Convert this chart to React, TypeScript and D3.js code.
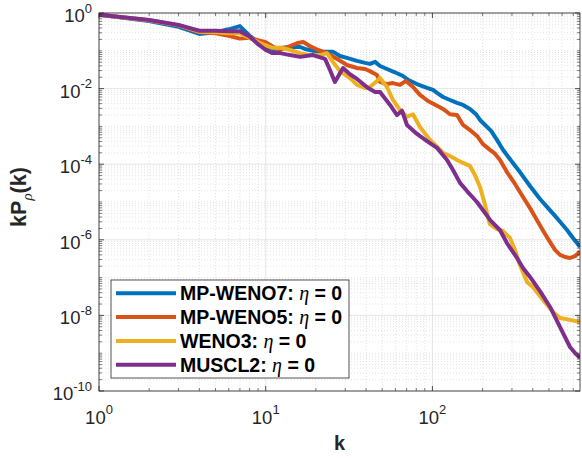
import * as d3 from "d3";

const W = 582;
const H = 458;
const M = { left: 99, right: 580, top: 13, bottom: 391 };

const K_MAX = 768;

// [k, kP(k)] readings per scheme
const mpWeno7: [number, number][] = [
  [1, 0.9], [2, 0.61], [3, 0.43], [4, 0.28], [5, 0.31], [6, 0.37], [7, 0.45], [8, 0.25],
  [9, 0.17], [10, 0.128], [11, 0.11], [12.2, 0.119], [14, 0.126], [16.1, 0.126], [17.2, 0.112],
  [19.2, 0.1], [22.1, 0.095], [25.3, 0.095], [27.9, 0.073], [30.7, 0.065], [35.3, 0.054],
  [39.4, 0.048], [42.2, 0.045], [45.3, 0.051], [48.5, 0.0396], [53.4, 0.033], [59.6, 0.027],
  [66.6, 0.0216], [71.4, 0.017], [80.8, 0.0132], [92.8, 0.0104], [100.8, 0.0092],
  [106.6, 0.0077], [115.8, 0.006], [127.5, 0.005], [140.5, 0.0042], [152.6, 0.0037],
  [168, 0.0029], [182.6, 0.0021], [193, 0.00148], [207, 0.00109], [225, 0.00076],
  [244, 0.00044], [265, 0.00024], [304, 0.000108], [335, 6.2e-5], [385, 2.65e-5],
  [442, 1.2e-5], [487, 7.4e-6], [544, 4.3e-6], [583, 3.0e-6], [642, 1.82e-6],
  [697, 1.12e-6], [768, 6.5e-7],
];

const mpWeno5: [number, number][] = [
  [1, 0.9], [2, 0.64], [3, 0.47], [4, 0.31], [5, 0.29], [6, 0.25], [7, 0.21], [8, 0.22],
  [9, 0.19], [10, 0.17], [11, 0.13], [12.2, 0.105], [14, 0.134], [15.5, 0.16], [16.8, 0.17],
  [18.4, 0.134], [20.6, 0.105], [23.3, 0.087], [26.8, 0.061], [30.7, 0.042], [35.3, 0.035],
  [39.4, 0.033], [42.2, 0.029], [46.5, 0.023], [48.5, 0.015], [53.4, 0.0132], [58, 0.014],
  [63.9, 0.0125], [69.4, 0.016], [76.5, 0.011], [84.2, 0.0068], [94.1, 0.0047],
  [106.6, 0.0035], [115.8, 0.0029], [127.5, 0.0021], [140.5, 0.002], [152.6, 0.00109],
  [168, 0.0008], [185.2, 0.00056], [201, 0.00034], [221.6, 0.00024], [237.4, 0.00019],
  [254.4, 0.000129], [280, 6.2e-5], [313, 3.0e-5], [349.5, 1.36e-5], [385, 6.9e-6],
  [424, 3.3e-6], [474, 1.42e-6], [508, 8.7e-7], [544, 5.4e-7], [583, 4.0e-7],
  [625, 3.5e-7], [669, 3.3e-7], [717, 3.7e-7], [768, 4.8e-7],
];

const weno3: [number, number][] = [
  [1, 0.9], [2, 0.64], [3, 0.47], [4, 0.32], [5, 0.31], [6, 0.29], [7, 0.29], [8, 0.22],
  [9, 0.17], [10, 0.14], [11, 0.12], [12.2, 0.122], [14, 0.105], [16.1, 0.087], [18.4, 0.077],
  [21.2, 0.077], [23.3, 0.087], [25.3, 0.051], [27.9, 0.029], [32, 0.019], [35.3, 0.0125],
  [39.4, 0.0104], [42.2, 0.011], [46.5, 0.016], [48.5, 0.019], [53.4, 0.011], [58, 0.005],
  [63.9, 0.0027], [70.4, 0.0018], [76.5, 0.0021], [84.2, 0.00096], [96.7, 0.00044],
  [106.6, 0.00029], [115.8, 0.0002], [127.5, 0.000165], [140.5, 0.000129], [152.6, 0.000108],
  [168, 9.0e-5], [180, 5.2e-5], [193, 2.5e-5], [207, 8.3e-6], [221, 2.6e-6], [244, 1.93e-6],
  [265, 1.71e-6], [292, 1.12e-6], [313, 5.4e-7], [335, 2.15e-7], [369.5, 7.7e-8],
  [401, 5.6e-8], [461, 2.55e-8], [529, 1.23e-8], [583, 8.5e-9], [669, 7.6e-9], [768, 6.7e-9],
];

const muscl2: [number, number][] = [
  [1, 0.9], [2, 0.65], [3, 0.48], [4, 0.34], [5, 0.34], [6, 0.33], [7, 0.33], [8, 0.24],
  [9, 0.15], [10, 0.105], [11, 0.087], [12.2, 0.087], [14, 0.077], [16.1, 0.069],
  [19.2, 0.077], [22.7, 0.061], [24.3, 0.031], [26, 0.015], [29.1, 0.035], [32, 0.024],
  [35.3, 0.018], [41.1, 0.0104], [45.3, 0.0081], [48.5, 0.0081], [55.7, 0.0037],
  [61.3, 0.002], [65.7, 0.0026], [70.4, 0.00109], [80.8, 0.00063], [92.8, 0.00041],
  [106.6, 0.00027], [122.4, 0.000129], [132.9, 7.0e-5], [146.4, 3.2e-5], [161.3, 1.95e-5],
  [185, 1.0e-5], [207, 5.1e-6], [222, 3.3e-6], [254, 1.82e-6], [280, 8.2e-7],
  [321.7, 3.3e-7], [349.5, 1.8e-7], [385, 1.04e-7], [442, 4.4e-8], [508, 1.67e-8],
  [583, 4.9e-9], [669, 1.46e-9], [717, 1.01e-9], [768, 7.5e-10],
];

const seriesNames = ["MP-WENO7", "MP-WENO5", "WENO3", "MUSCL2"];
const seriesColors = ["#0072BD", "#D95319", "#EDB120", "#7E2F8E"];
const allSeries = [mpWeno7, mpWeno5, weno3, muscl2];

const xTicks = [1, 10, 100];
const yTicks = [0, -2, -4, -6, -8, -10];

const FONT = "'Liberation Sans', Arial, Helvetica, sans-serif";
const SERIF = "'Liberation Serif', 'DejaVu Serif', serif";
const AXIS = "#262626";

export default function App() {
  const x = d3.scaleLog().domain([1, K_MAX]).range([M.left, M.right]);
  const y = d3.scaleLog().domain([1e-10, 1]).range([M.bottom, M.top]);

  const line = d3
    .line<[number, number]>()
    .x((d) => x(d[0]))
    .y((d) => y(d[1]));

  // minor positions
  const xMinor: number[] = [];
  [1, 10, 100].forEach((dec) => {
    for (let i = 2; i <= 9; i++) if (dec * i <= K_MAX) xMinor.push(dec * i);
  });
  const yMinor: number[] = [];
  for (let e = -10; e < 0; e++) {
    for (let i = 1; i <= 9; i++) {
      if (i === 1 && e % 2 === 0) continue;
      yMinor.push(i * Math.pow(10, e));
    }
  }

  return (
    <svg
      width={W}
      height={H}
      style={{ position: "absolute", left: 0, top: 0, background: "#fff" }}
      fontFamily={FONT}
    >
      <defs>
        <clipPath id="plot">
          <rect x={M.left} y={M.top} width={M.right - M.left} height={M.bottom - M.top} />
        </clipPath>
      </defs>

      {/* minor grid */}
      {xMinor.map((v) => (
        <line key={"xm" + v} x1={x(v)} x2={x(v)} y1={M.top} y2={M.bottom}
          stroke="#d2d2d2" strokeWidth={0.6} strokeDasharray="1 2" />
      ))}
      {yMinor.map((v, i) => (
        <line key={"ym" + i} x1={M.left} x2={M.right} y1={y(v)} y2={y(v)}
          stroke="#d2d2d2" strokeWidth={0.6} strokeDasharray="1 2" />
      ))}
      {/* major grid */}
      {xTicks.map((v) => (
        <line key={"xg" + v} x1={x(v)} x2={x(v)} y1={M.top} y2={M.bottom}
          stroke="#dedede" strokeWidth={0.8} />
      ))}
      {yTicks.map((e) => (
        <line key={"yg" + e} x1={M.left} x2={M.right} y1={y(Math.pow(10, e))} y2={y(Math.pow(10, e))}
          stroke="#dedede" strokeWidth={0.8} />
      ))}

      {/* curves */}
      <g clipPath="url(#plot)">
        {allSeries.map((s, i) => (
          <path key={i} d={line(s) ?? ""} fill="none" stroke={seriesColors[i]}
            strokeWidth={4} strokeLinejoin="round" strokeLinecap="butt" />
        ))}
      </g>

      {/* axes box */}
      <rect x={M.left} y={M.top} width={M.right - M.left} height={M.bottom - M.top}
        fill="none" stroke={AXIS} strokeWidth={0.8} />

      {/* ticks */}
      {xTicks.map((v) => (
        <g key={"xt" + v}>
          <line x1={x(v)} x2={x(v)} y1={M.bottom} y2={M.bottom - 5} stroke={AXIS} strokeWidth={0.8} />
          <line x1={x(v)} x2={x(v)} y1={M.top} y2={M.top + 5} stroke={AXIS} strokeWidth={0.8} />
        </g>
      ))}
      {xMinor.map((v) => (
        <g key={"xmt" + v}>
          <line x1={x(v)} x2={x(v)} y1={M.bottom} y2={M.bottom - 3} stroke={AXIS} strokeWidth={0.6} />
          <line x1={x(v)} x2={x(v)} y1={M.top} y2={M.top + 3} stroke={AXIS} strokeWidth={0.6} />
        </g>
      ))}
      {yTicks.map((e) => (
        <g key={"yt" + e}>
          <line x1={M.left} x2={M.left + 5} y1={y(Math.pow(10, e))} y2={y(Math.pow(10, e))} stroke={AXIS} strokeWidth={0.8} />
          <line x1={M.right} x2={M.right - 5} y1={y(Math.pow(10, e))} y2={y(Math.pow(10, e))} stroke={AXIS} strokeWidth={0.8} />
        </g>
      ))}
      {yMinor.map((v, i) => (
        <g key={"ymt" + i}>
          <line x1={M.left} x2={M.left + 3} y1={y(v)} y2={y(v)} stroke={AXIS} strokeWidth={0.6} />
          <line x1={M.right} x2={M.right - 3} y1={y(v)} y2={y(v)} stroke={AXIS} strokeWidth={0.6} />
        </g>
      ))}

      {/* y tick labels */}
      {yTicks.map((e) => {
        const ty = y(Math.pow(10, e));
        return (
          <text key={"yl" + e} x={92} y={ty + 9} textAnchor="end" fill={AXIS} fontSize={18.5}>
            10
            <tspan fontSize={13} dy={-9.5}>{String(e)}</tspan>
          </text>
        );
      })}

      {/* x tick labels */}
      {xTicks.map((v) => {
        const tx = x(v);
        return (
          <text key={"xl" + v} x={tx} y={424} textAnchor="middle" fill={AXIS} fontSize={18.5}>
            10
            <tspan fontSize={13} dy={-10}>{Math.round(Math.log10(v))}</tspan>
          </text>
        );
      })}

      {/* axis labels */}
      <text x={(M.left + M.right) / 2} y={450} textAnchor="middle" fontWeight="bold"
        fontSize={20} fill={AXIS}>k</text>
      <text transform="translate(25.5,197) rotate(-90)" textAnchor="middle"
        fontWeight="bold" fontSize={21.5} fill={AXIS}>
        kP
        <tspan dy={6.5} fontSize={15} fontFamily={SERIF} fontStyle="italic" fontWeight="normal">ρ</tspan>
        <tspan dy={-6.5}>(k)</tspan>
      </text>

      {/* legend */}
      <g>
        <rect x={111} y={280} width={238} height={98} fill="#fff" stroke={AXIS} strokeWidth={0.8} />
        {seriesNames.map((name, i) => {
          const ry = 293.3 + i * 23.8;
          return (
            <g key={name}>
              <line x1={116} x2={176} y1={ry} y2={ry} stroke={seriesColors[i]} strokeWidth={4} />
              <text x={180} y={ry + 7} fontSize={19.5} fontWeight="bold" fill="#000">
                {name}:{" "}
                <tspan fontFamily={SERIF} fontStyle="italic" fontWeight="normal" fontSize={20}>η</tspan>
                {" = 0"}
              </text>
            </g>
          );
        })}
      </g>
    </svg>
  );
}
